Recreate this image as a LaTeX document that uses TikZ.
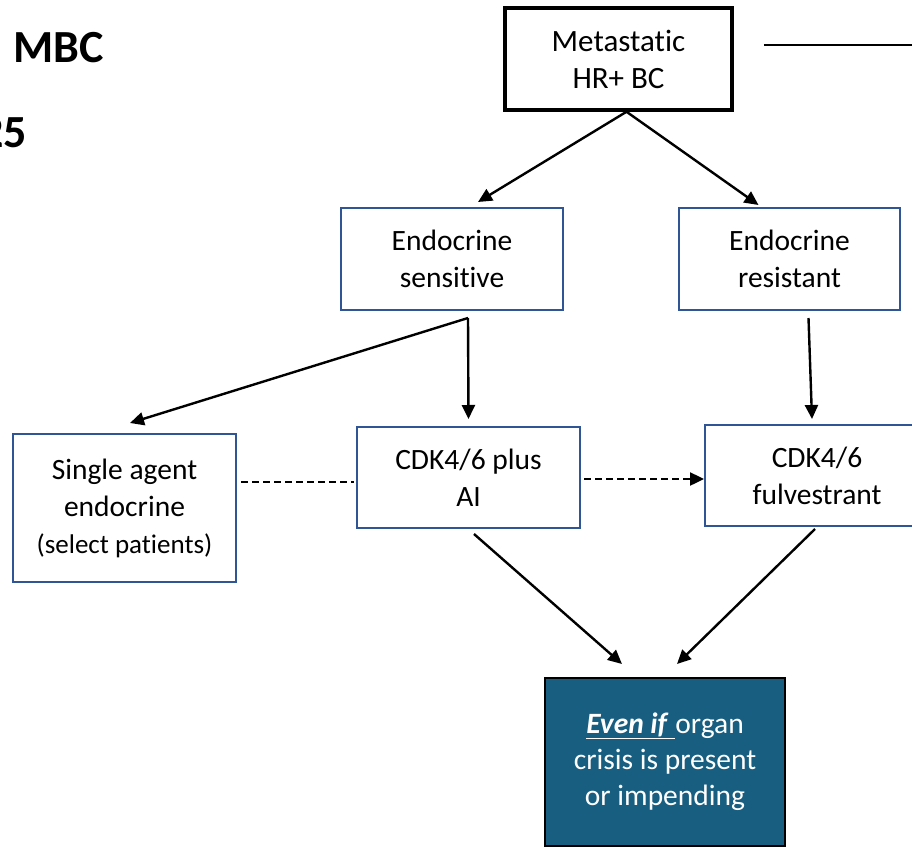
\documentclass[tikz,border=0pt]{standalone}
\usepackage{fontspec}
\setmainfont{Carlito}[Ligatures=NoCommon]
\usetikzlibrary{arrows.meta,calc}
\definecolor{boxblue}{RGB}{47,85,151}
\definecolor{crisisfill}{RGB}{23,94,128}
\tikzset{
  stepbox/.style={draw=boxblue, line width=2pt, fill=white, inner sep=0pt,
    align=center, font=\fontsize{29.5}{37}\selectfont},
  rootbox/.style={draw=black, line width=3.5pt, inner sep=0pt, align=center,
    font=\fontsize{31}{37}\selectfont},
  crisisbox/.style={draw=black, line width=2pt, fill=crisisfill, text=white,
    inner sep=0pt, align=center, font=\fontsize{29.5}{36}\selectfont},
  arr/.style={line width=2.4pt, -{Triangle[length=14pt,width=13pt]}},
  dasharr/.style={line width=2.4pt, dash pattern=on 7pt off 4pt},
  heading/.style={inner sep=0pt, font=\fontsize{46}{50}\selectfont\bfseries}
}
\begin{document}
\begin{tikzpicture}[x=1pt,y=-1pt]
\useasboundingbox (0,0) rectangle (912,848);
\clip (0,0) rectangle (912,848);

% title fragments at the left edge
\node[heading, anchor=base west] (ttl) at (13,63) {MBC};
\node[heading, anchor=base east] (yr) at (27,147) {25};

% boxes
\node[rootbox, minimum width=227pt, minimum height=102pt] (meta) at (618.5,59)
  {Metastatic\\HR+ BC};
\node[stepbox, minimum width=222pt, minimum height=102pt] (ses) at (452,259)
  {Endocrine\\sensitive};
\node[stepbox, minimum width=221pt, minimum height=102pt] (res) at (789.5,259)
  {Endocrine\\resistant};
\node[stepbox, minimum width=223pt, minimum height=148pt] (single) at (124.5,508)
  {Single agent\\endocrine\\{\fontsize{27}{36}\selectfont (select patients)}};
\node[stepbox, minimum width=223pt, minimum height=101pt] (cai) at (468.5,477.5)
  {CDK4/6 plus\\AI};
\node[stepbox, minimum width=224pt, minimum height=101pt] (ful) at (817,475.5)
  {CDK4/6\\fulvestrant};
\node[crisisbox, minimum width=240pt, minimum height=168pt] (even) at (665,762)
  {\underline{\textbf{\textit{Even if}}\ }organ\\crisis is present\\or impending};

% line leading off to the right of the root box
\coordinate (lineR) at (915,45);
\draw[line width=2.4pt] ($(meta.east)+(30,-14)$) -- (lineR);

% root splits
\coordinate (mtop) at ($(meta.south)+(8,0)$);
\draw[arr] (mtop) -- ($(ses.north)+(26,-5)$);
\draw[arr] (mtop) -- ($(res.north)+(-31,-2)$);

% endocrine sensitive branches
\coordinate (sbot) at ($(ses.south)+(16,7)$);
\draw[arr] (sbot) -- ($(cai.north)+(0,-7)$);
\draw[arr] (sbot) -- ($(single.north)+(5.5,-10)$);

% endocrine resistant
\draw[arr] ($(res.south)+(19,7)$) -- ($(ful.north)+(-5,-5)$);

% dashed links between treatment boxes
\draw[dasharr] ($(single.east)+(4,-26)$) -- ($(cai.west)+(-2,4.5)$);
\coordinate (dstart) at ($(cai.east)+(3,1.5)$);
\draw[dasharr, -{Triangle[length=14pt,width=13pt]}] (dstart) -- (ful.west |- dstart);

% treatments to organ crisis
\draw[arr] ($(cai.south)+(5.5,5)$) -- ($(even.north)+(-43,-13)$);
\draw[arr] ($(ful.south)+(-2,2)$) -- ($(even.north)+(12,-13)$);
\end{tikzpicture}
\end{document}
